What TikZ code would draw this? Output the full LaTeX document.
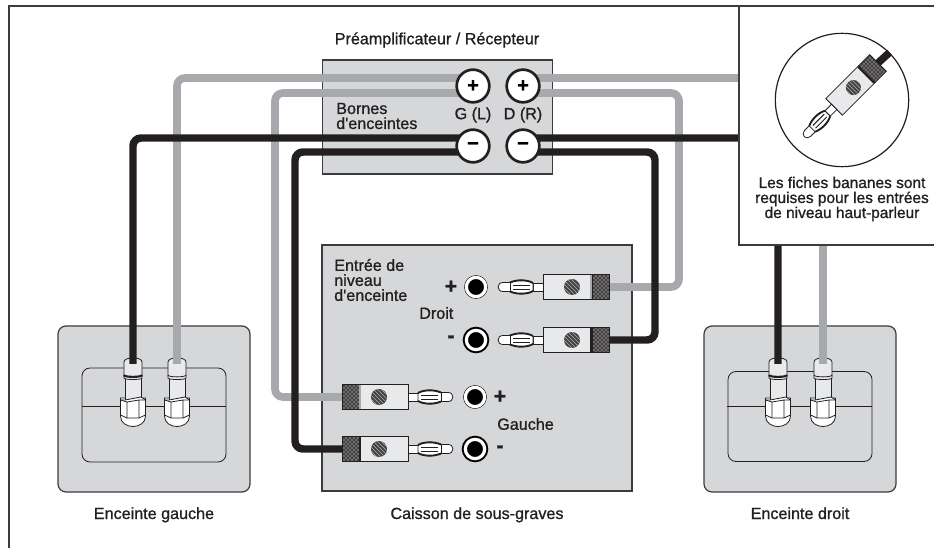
\documentclass[tikz,border=0pt]{standalone}
\usepackage{fontspec}
\setmainfont[FakeBold=1, Ligatures=TeXOff]{Liberation Sans}
\usepackage{tikz}
\usetikzlibrary{backgrounds}
\usetikzlibrary{positioning}
\usetikzlibrary{patterns}
\definecolor{boxgray}{RGB}{214,215,217}
\definecolor{wiregray}{RGB}{168,169,172}
\definecolor{wireblack}{RGB}{35,31,32}
\definecolor{bodygray}{RGB}{232,233,235}
\definecolor{linegray}{RGB}{60,60,62}

\tikzset{
    panel/.style = {draw = linegray, line width = .9pt, fill = boxgray, inner sep = 0pt},
    txt/.style = {font = \fontsize{12.1}{11.25}\selectfont, inner sep = 0pt, text = wireblack},
    sign/.style = {font = \fontsize{16}{16}\bfseries\selectfont, inner sep = 0pt, text = wireblack},
    terminal/.style = {circle, draw = wireblack, line width = 2pt, fill = white, inner sep = 0pt,
        minimum size = 24.5pt, on grid, font = \fontsize{15}{15}\bfseries\selectfont},
    jack/.style = {circle, fill = black, draw = black, double = white, double distance = 2.4pt,
        inner sep = 0pt, minimum size = 14.5pt},
    graywire/.style = {draw = wiregray, line width = 5.8pt, rounded corners = 6pt},
    blackwire/.style = {draw = wireblack, line width = 5.6pt, rounded corners = 6pt},
    part/.style = {draw = wireblack, line width = .6pt},
    % plug, tail at the origin and pin towards -x
    pics/banana/.style = {code = {
        \fill[wireblack!85] (-17,-12.5) rectangle (0,12.5);
        \path[pattern = crosshatch dots, pattern color = white] (-17,-12.5) rectangle (0,12.5);
        \draw[part] (-17,-12.5) rectangle (0,12.5);
        \draw[part, fill = bodygray] (-66,-12.5) rectangle (-17,12.5);
        \fill[#1] (-19,-12.2) rectangle (-17,12.2);
        \fill[wireblack!85] (-37,0) circle (8);
        \path[pattern = north west lines, pattern color = wireblack!35] (-37,0) circle (8);
        \draw[part, fill = white] (-76,-4) rectangle (-66,4);
        \draw[part, fill = white] (-76,-4) .. controls (-82,-7.5) and (-92,-7.5) .. (-99,-4.5)
            -- (-106,-4.5) .. controls (-112.5,-4.5) and (-112.5,4.5) .. (-106,4.5)
            -- (-99,4.5) .. controls (-92,7.5) and (-82,7.5) .. (-76,4) -- cycle;
        \draw[line width = 1.4pt, wireblack] (-76,-4) .. controls (-82,-7.5) and (-92,-7.5) .. (-99,-4.5);
        \draw[line width = 1.4pt, wireblack] (-76,4) .. controls (-82,7.5) and (-92,7.5) .. (-99,4.5);
        \draw[line width = .7pt, wireblack] (-96,-2) -- (-79,-2) (-96,2) -- (-79,2);
        \draw[line width = .6pt, wireblack] (-99,-4.5) -- (-99,4.5);
    }},
    % binding post, top of the collar at the origin
    pics/post/.style = {code = {
        \draw[part, fill = white] (-12.5,58) .. controls (-12.5,72) and (12.5,72) .. (12.5,58) -- (12.5,40) -- (-12.5,40) -- cycle;
        \draw[part, fill = bodygray] (-8,20) rectangle (8,42);
        \draw[part, fill = white] (-12.5,42) -- (-12.5,57) -- (-6,60) -- (6,60) -- (12.5,57) -- (12.5,42)
            -- (8,39) -- (-8,42) -- cycle;
        \draw[part] (-6,44) -- (-6,60) (6,42) -- (6,60) (-12.5,42) -- (-6,44) -- (6,42) -- (12.5,42);
        \draw[part, fill = bodygray] (-9,4) .. controls (-9,-1.5) and (9,-1.5) .. (9,4)
            -- (9,20) .. controls (9,22) and (-9,22) .. (-9,20) -- cycle;
        \draw[#1] (-9,17) .. controls (-9,19.5) and (9,19.5) .. (9,17);
    }}
}

\begin{document}
\begin{tikzpicture}[
            x = .75pt, y = -.75pt,
            node distance = 20pt
            ]

    \useasboundingbox (0,0) rectangle (934,548);

    % preamplifier
    \node[terminal] (GP) at (473,86) {+};
    \node[terminal] (DP) [right =37.5pt of GP] {+};
    \node[terminal] (GM) [below =45pt of GP] {−};
    \node[terminal] (DM) [right =37.5pt of GM] {−};
    \node[txt] (PreampName) at (437,40) {Préamplificateur / Récepteur};
    \node[txt, align = left, anchor = west] (Bornes) at (336,116) {Bornes\\d'enceintes};
    \node[txt] (GName) at (473,115) {G (L)};
    \node[txt] (DName) at (523,115) {D (R)};

    % subwoofer inputs
    \node[jack] (JDP) at (476,287) {};
    \node[jack, line width = 1.5pt] (JDM) at (476,340) {};
    \node[jack] (JGP) at (475,397) {};
    \node[jack, line width = 1.5pt] (JGM) at (475,449) {};
    \node[sign] (SignDP) at (451,287) {+};
    \node[sign] (SignDM) at (451,339) {-};
    \node[sign] (SignGP) at (500,397) {+};
    \node[sign] (SignGM) at (500,449) {-};
    \node[txt, align = left, anchor = west] (Entree) at (334,280) {Entrée de\\niveau\\d'enceinte};
    \node[txt, anchor = west] (Droit) at (419,313) {Droit};
    \node[txt, anchor = west] (Gauche) at (497,424) {Gauche};
    \node[txt, anchor = base] (LeftName) at (154,519) {Enceinte gauche};
    \node[txt, anchor = base] (SubName) at (477,519) {Caisson de sous-graves};
    \node[txt, anchor = base] (RightName) at (800,519) {Enceinte droit};

    % plugs and where the wires end
    \coordinate (PlugDP) at (609,287);
    \coordinate (PlugDM) at (609,340);
    \coordinate (PlugGP) at (342,397);
    \coordinate (PlugGM) at (342,449);
    \coordinate (PostLB) at (133,358);
    \coordinate (PostLG) at (177,358);
    \coordinate (PostRB) at (778,358);
    \coordinate (PostRG) at (823,358);
    \coordinate (TurnGG) at (275,250);
    \coordinate (TurnGB) at (295,250);
    \coordinate (TurnDG) at (679,200);
    \coordinate (TurnDB) at (655,200);

    \pic at (PlugDP) {banana = wiregray};
    \pic at (PlugDM) {banana = wireblack};
    \pic[rotate = 180] at (PlugGP) {banana = wiregray};
    \pic[rotate = 180] at (PlugGM) {banana = wireblack};

    \begin{scope}[on background layer]
    \fill[white] (0,0) rectangle (934,548);
    % outer frame, open to the right and below
    \draw[linegray, line width = 1.2pt] (9,548) |- (934,6);

    \node[panel, minimum width = 173pt, minimum height = 85.5pt] (Preamp) at (437.5,117) {};
    \node[panel, minimum width = 232.5pt, minimum height = 184.5pt] (Sub) at (477,368) {};
    \node[panel, rounded corners = 6pt, minimum width = 144pt, minimum height = 124.5pt] (SpkL) at (154,409) {};
    \node[panel, rounded corners = 6pt, minimum width = 144pt, minimum height = 124.5pt] (SpkR) at (800,409) {};
    \node[part, rounded corners = 6pt, minimum width = 108pt, minimum height = 70.5pt] (PlateL) at (154,415) {};
    \node[part, rounded corners = 6pt, minimum width = 108pt, minimum height = 67.5pt] (PlateR) at (800,416.5) {};
    \draw[part] (82,406) -- (226,406);
    \draw[part] (727,406) -- (872,406);

    \pic at (PostLB) {post = {line width = 1.6pt, wireblack}};
    \pic at (PostLG) {post = {line width = .6pt, wireblack}};
    \pic at (PostRB) {post = {line width = 1.6pt, wireblack}};
    \pic at (PostRG) {post = {line width = .6pt, wireblack}};

    % wires, gray ones first
    \draw[graywire] ([yshift = 6pt]GP.center) -| ([yshift = -4.5pt]PostLG);
    \draw[graywire] ([yshift = -5.25pt]GP.center) -| (TurnGG) |- (PlugGP);
    \draw[graywire] ([yshift = 6pt]DP.center) -| ([yshift = -4.5pt]PostRG);
    \draw[graywire] ([yshift = -5.25pt]DP.center) -| (TurnDG) |- (PlugDP);
    \draw[blackwire] ([yshift = 6pt]GM.center) -| ([yshift = -4.5pt]PostLB);
    \draw[blackwire] ([yshift = -4.5pt]GM.center) -| (TurnGB) |- (PlugGM);
    \draw[blackwire] ([yshift = 6pt]DM.center) -| ([yshift = -4.5pt]PostRB);
    \draw[blackwire] ([yshift = -4.5pt]DM.center) -| (TurnDB) |- (PlugDM);
    \end{scope}

    % inset
    \draw[fill = white, draw = linegray, line width = 1.2pt] (739,6) rectangle (945,245);
    \node[circle, draw = wireblack, line width = .9pt, minimum size = 100pt, inner sep = 0pt] (Badge) at (842,100) {};
    \coordinate (InsetTail) at (878,63);
    \draw[blackwire] (InsetTail) -- (Badge.45);
    \pic[rotate = 45, scale = .94] at (InsetTail) {banana = wireblack};
    \node[txt, align = center, font = \fontsize{11.6}{11.25}\selectfont] (InsetText) at (842,199) {Les fiches bananes sont\\requises pour les entrées\\de niveau haut-parleur};

\end{tikzpicture}
\end{document}
